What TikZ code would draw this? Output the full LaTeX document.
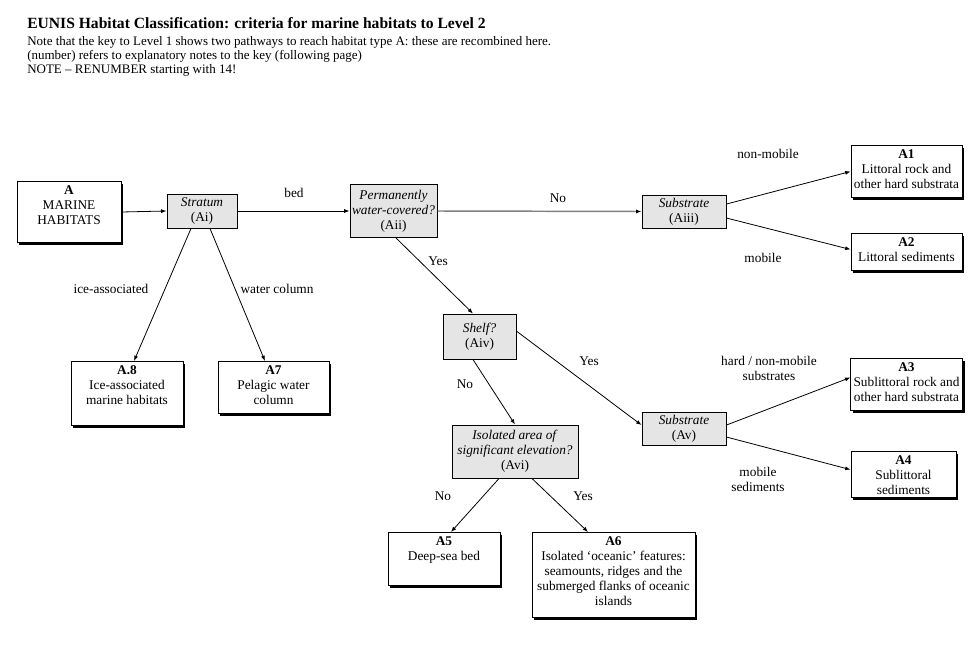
\documentclass[tikz,border=0pt]{standalone}
\usepackage{fontspec}
\setmainfont{Liberation Serif}
\usetikzlibrary{arrows.meta, positioning, shadows}

\begin{document}
\begin{tikzpicture}[x=0.75pt, y=-0.75pt,
    font=\fontsize{10}{11.25}\selectfont,
    habitat/.style={draw, line width=0.75pt, fill=white, align=center, anchor=north,
      inner xsep=2pt, inner ysep=1.5pt,
      drop shadow={shadow xshift=1.8pt, shadow yshift=-1.8pt, fill=black, opacity=1}},
    crit/.style={draw, line width=0.75pt, fill=gray!20, align=center, inner sep=1pt},
    lbl/.style={align=center, inner sep=0pt},
    link/.style={line width=0.6pt, -{Latex[length=4pt, width=3pt]}}]
  \useasboundingbox (0,0) rectangle (979,646);
  % Heading
  \node[anchor=base west, inner sep=0pt, font=\fontsize{11.7}{13}\selectfont\bfseries] (title) at (27,28)
    {EUNIS Habitat Classification: criteria for marine habitats to Level 2};
  \node[anchor=north west, inner sep=0pt, align=left, font=\fontsize{9.75}{10.5}\selectfont] (notes) at (27,36)
    {Note that the key to Level 1 shows two pathways to reach habitat type A: these are recombined here.\\
     (number) refers to explanatory notes to the key (following page)\\
     NOTE -- RENUMBER starting with 14!};
  % Criteria
  \node[crit, minimum width=52.5pt, minimum height=25.5pt] (Ai) at (202,211) {\textit{Stratum}\\(Ai)};
  \node[crit, minimum width=65.25pt, minimum height=39.75pt] (Aii) at (393.5,211) {\textit{Permanently}\\\textit{water-covered?}\\(Aii)};
  \node[crit, minimum width=63pt, minimum height=24.75pt] (Aiii) at (684,211.5) {\textit{Substrate}\\(Aiii)};
  \node[crit, minimum width=54.75pt, minimum height=33.75pt] (Aiv) at (479.5,336.5) {\textit{Shelf?}\\(Aiv)};
  \node[crit, minimum width=63pt, minimum height=24.75pt] (Av) at (684,428.5) {\textit{Substrate}\\(Av)};
  \node[crit, minimum width=94.5pt, minimum height=39.75pt] (Avi) at (515,451.5) {\textit{Isolated area of}\\\textit{significant elevation?}\\(Avi)};
  % Habitats
  \node[habitat, minimum width=78pt, text height=31.1pt, text depth=11.65pt] (A) at (69,181) {\textbf{A}\\MARINE\\HABITATS};
  \node[habitat, minimum width=83.25pt, text height=31.1pt, text depth=4.9pt] (A1) at (906.5,145) {\textbf{A1}\\Littoral rock and\\other hard substrata};
  \node[habitat, minimum width=83.25pt, text height=19.85pt, text depth=4.9pt] (A2) at (906.5,233) {\textbf{A2}\\Littoral sediments};
  \node[habitat, minimum width=83.25pt, text height=31.1pt, text depth=4.9pt] (A3) at (906.5,358) {\textbf{A3}\\Sublittoral rock and\\other hard substrata};
  \node[habitat, minimum width=78.75pt, text height=31.1pt, text depth=0.6pt] (A4) at (903.5,451) {\textbf{A4}\\Sublittoral\\sediments};
  \node[habitat, minimum width=84pt, text height=19.85pt, text depth=16.9pt] (A5) at (444,532) {\textbf{A5}\\Deep-sea bed};
  \node[habitat, minimum width=122.25pt, text height=53.6pt, text depth=7.15pt] (A6) at (613.5,532)
    {\textbf{A6}\\Isolated `oceanic' features:\\seamounts, ridges and the\\submerged flanks of oceanic\\islands};
  \node[habitat, minimum width=83.25pt, text height=31.1pt, text depth=4.9pt] (A7) at (273.5,361) {\textbf{A7}\\Pelagic water\\column};
  \node[habitat, minimum width=84pt, text height=31.1pt, text depth=13.9pt] (A8) at (127,361) {\textbf{A.8}\\Ice-associated\\marine habitats};
  % Connectors
  \draw[link] (A.east) -- (Ai.west);
  \draw[link] (Ai.east) -- (Aii.west);
  \draw[link, gray, line width=1.1pt, -{Latex[length=4pt, width=3pt, black]}] (Aii.east) -- (Aiii.west);
  \draw[link] ([yshift=5.6pt]Aiii.east) -- (A1.west);
  \draw[link] ([yshift=-4.9pt]Aiii.east) -- ([yshift=1.9pt]A2.west);
  \draw[link] ([xshift=-8.25pt]Ai.south) -- ([xshift=5.25pt]A8.north);
  \draw[link] ([xshift=6pt]Ai.south) -- ([xshift=-6.4pt]A7.north);
  \draw[link] ([xshift=1.9pt]Aii.south) -- ([xshift=-4.9pt]Aiv.north);
  \draw[link] ([yshift=4pt]Aiv.east) -- ([yshift=2.6pt]Av.west);
  \draw[link] ([xshift=-4.9pt]Aiv.south) -- (Avi.north);
  \draw[link] ([yshift=2.6pt]Av.east) -- ([yshift=5.25pt]A3.west);
  \draw[link] ([yshift=-6.4pt]Av.east) -- ([yshift=3.75pt]A4.west);
  \draw[link] ([xshift=-12pt]Avi.south) -- ([xshift=5.25pt]A5.north);
  \draw[link] ([xshift=12.75pt]Avi.south) -- ([xshift=-19.1pt]A6.north);
  % Labels
  \node[lbl] (bed) at (294,193) {bed};
  \node[lbl] (noAii) at (558,198) {No};
  \node[lbl] (nonmob) at (768,154) {non-mobile};
  \node[lbl] (mob) at (763,258) {mobile};
  \node[lbl] (ice) at (111,289) {ice-associated};
  \node[lbl] (wcol) at (277,289) {water column};
  \node[lbl] (yesAii) at (438,261) {Yes};
  \node[lbl] (yesAiv) at (589,361) {Yes};
  \node[lbl] (noAiv) at (465,384) {No};
  \node[lbl] (hard) at (769,368.5) {hard / non-mobile\\substrates};
  \node[lbl] (mobsed) at (758,479.5) {mobile\\sediments};
  \node[lbl] (noAvi) at (443,496) {No};
  \node[lbl] (yesAvi) at (583,496) {Yes};
\end{tikzpicture}
\end{document}
